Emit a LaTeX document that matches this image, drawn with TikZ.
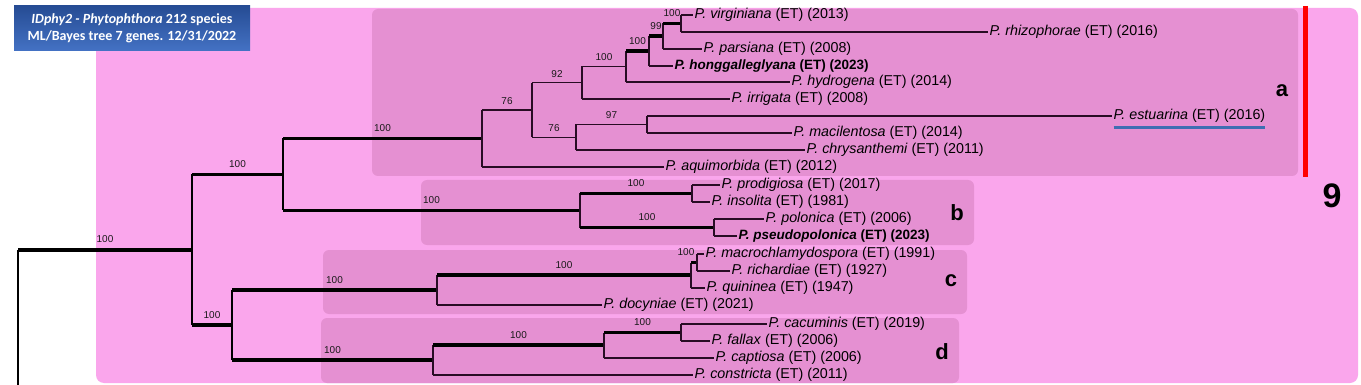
\documentclass[tikz,border=0pt]{standalone}
\usepackage{fontspec}
\setmainfont{Liberation Sans}
\newfontfamily\titlefont{Carlito}
\usetikzlibrary{calc}

\definecolor{pinkbg}{RGB}{250,166,236}
\definecolor{cladebox}{RGB}{229,144,210}
\definecolor{treeline}{RGB}{40,12,36}
\definecolor{estblue}{RGB}{62,110,178}
\definecolor{titletop}{RGB}{38,76,148}
\definecolor{titlebot}{RGB}{68,114,196}

\tikzset{
	thinbr/.style={draw=treeline, line width=1.1pt},
	spinebr/.style={draw=black, line width=2pt},
	thickbr/.style={draw=black, line width=3.6pt},
	taxon/.style={anchor=west, inner sep=1.5pt, font=\fontsize{14.3}{16}\selectfont},
	taxonbold/.style={taxon, font=\fontsize{13.5}{15}\selectfont\bfseries},
	boot/.style={above=4pt, inner sep=1pt, font=\fontsize{10}{11}\selectfont, text=black!90},
	cladebg/.style={fill=cladebox, rounded corners=6pt},
	cladename/.style={font=\fontsize{22}{24}\selectfont\bfseries},
}

\begin{document}
\begin{tikzpicture}[x=1pt, y=-1pt]
			%%%%% START %%%%%
			\useasboundingbox (0,0) rectangle (1361,385);
			\fill[white] (0,0) rectangle (1361,385);
			
			\fill[pinkbg, rounded corners=8pt] (96,8) rectangle (1358,383);
			\fill[cladebg] (372,9) rectangle (1298,176);
			\fill[cladebg] (421,180) rectangle (974,245);
			\fill[cladebg] (323,250) rectangle (967,314);
			\fill[cladebg] (321,318) rectangle (959,383);
			
			\node[top color=titletop, bottom color=titlebot, minimum width=236pt, minimum height=45pt, inner sep=0pt,
				text=white, align=center, font=\titlefont\fontsize{14}{17}\selectfont\bfseries] (title) at (132,28.5)
				{\textit{IDphy2 - Phytophthora} 212 species\\ML/Bayes tree 7 genes. 12/31/2022};
			
			% inner nodes
			\coordinate (root) at (18,249.75);
			\coordinate (R1) at (192,249.75);
			\coordinate (U) at (283,174.5);
			\coordinate (L) at (232,325);
			\coordinate (N9) at (482,138.5);
			\coordinate (N8) at (532,110);
			\coordinate (N5) at (582,82.75);
			\coordinate (N4) at (626,66.5);
			\coordinate (N3) at (649,51);
			\coordinate (N2) at (663,36.25);
			\coordinate (N1) at (681,23.5);
			\coordinate (N7) at (576,137.25);
			\coordinate (N6) at (647,124.5);
			\coordinate (Nb3) at (580,210.5);
			\coordinate (Nb1) at (692,193.5);
			\coordinate (Nb2) at (714,227.5);
			\coordinate (Nc) at (437,290);
			\coordinate (Ncq) at (691,275.25);
			\coordinate (Nmr) at (697,262.5);
			\coordinate (Nd) at (433,360);
			\coordinate (Nd2) at (604,345.25);
			\coordinate (Nd3) at (681,332.5);
			\coordinate (rootend) at (18,390);
			
			% clade a
			\node[taxon] (virg) at (693,15) {\textit{P. virginiana} (ET) (2013)};
			\node[taxon] (rhiz) at (988,32) {\textit{P. rhizophorae} (ET) (2016)};
			\node[taxon] (pars) at (702,49) {\textit{P. parsiana} (ET) (2008)};
			\node[taxonbold] (hong) at (673,66) {\textit{P. honggalleglyana} (ET) (2023)};
			\node[taxon] (hydr) at (790,82) {\textit{P. hydrogena} (ET) (2014)};
			\node[taxon] (irri) at (730,99) {\textit{P. irrigata} (ET) (2008)};
			\node[taxon] (estu) at (1112,116) {\textit{P. estuarina} (ET) (2016)};
			\node[taxon] (maci) at (792,133) {\textit{P. macilentosa} (ET) (2014)};
			\node[taxon] (chry) at (805,150) {\textit{P. chrysanthemi} (ET) (2011)};
			\node[taxon] (aqui) at (664,167) {\textit{P. aquimorbida} (ET) (2012)};
			% clade b
			\node[taxon] (prod) at (720,185) {\textit{P. prodigiosa} (ET) (2017)};
			\node[taxon] (inso) at (710,202) {\textit{P. insolita} (ET) (1981)};
			\node[taxon] (polo) at (764,219) {\textit{P. polonica} (ET) (2006)};
			\node[taxonbold] (pseu) at (737,236) {\textit{P. pseudopolonica} (ET) (2023)};
			% clade c
			\node[taxon] (macr) at (704,254) {\textit{P. macrochlamydospora} (ET) (1991)};
			\node[taxon] (rich) at (730,271) {\textit{P. richardiae} (ET) (1927)};
			\node[taxon] (quin) at (705,288) {\textit{P. quininea} (ET) (1947)};
			\node[taxon] (docy) at (602,305) {\textit{P. docyniae} (ET) (2021)};
			% clade d
			\node[taxon] (cacu) at (767,324) {\textit{P. cacuminis} (ET) (2019)};
			\node[taxon] (fall) at (710,341) {\textit{P. fallax} (ET) (2006)};
			\node[taxon] (capt) at (714,358) {\textit{P. captiosa} (ET) (2006)};
			\node[taxon] (cons) at (693,375) {\textit{P. constricta} (ET) (2011)};
			
			\draw[estblue, line width=3pt] ([xshift=1.5pt, yshift=-3pt]estu.south west) -- ([xshift=-1.5pt, yshift=-3pt]estu.south east);
			
			% backbone
			\draw[spinebr] (root) -- (rootend);
			\draw[thickbr] (root) -- node[boot] {100} (R1);
			\draw[spinebr] (R1 |- U) -- (R1 |- L);
			\draw[thickbr] (U -| R1) -- node[boot] {100} (U);
			\draw[thickbr] (L -| R1) -- node[boot] {100} (L);
			\draw[spinebr] (U |- N9) -- (U |- Nb3);
			\draw[thickbr] (N9 -| U) -- node[boot] {100} (N9);
			\draw[thickbr] (Nb3 -| U) -- node[boot] {100} (Nb3);
			\draw[spinebr] (L |- Nc) -- (L |- Nd);
			\draw[thickbr] (Nc -| L) -- node[boot] {100} (Nc);
			\draw[thickbr] (Nd -| L) -- node[boot] {100} (Nd);
			
			% clade a branches
			\draw[thinbr] (N9 |- N8) -- (N9 |- aqui.west);
			\draw[thinbr] (N8 -| N9) -- node[boot] {76} (N8);
			\draw[thinbr] (aqui.west -| N9) -- (aqui.west);
			\draw[thinbr] (N8 |- N5) -- (N8 |- N7);
			\draw[thinbr] (N5 -| N8) -- node[boot] {92} (N5);
			\draw[thinbr] (N7 -| N8) -- node[boot] {76} (N7);
			\draw[thinbr] (N5 |- N4) -- (N5 |- irri.west);
			\draw[thinbr] (N4 -| N5) -- node[boot] {100} (N4);
			\draw[thinbr] (irri.west -| N5) -- (irri.west);
			\draw[thinbr] (N4 |- N3) -- (N4 |- hydr.west);
			\draw[thickbr] (N3 -| N4) -- node[boot] {100} (N3);
			\draw[thinbr] (hydr.west -| N4) -- (hydr.west);
			\draw[thinbr] (N3 |- N2) -- (N3 |- hong.west);
			\draw[thickbr] (N2 -| N3) -- node[boot] {99} (N2);
			\draw[thinbr] (hong.west -| N3) -- (hong.west);
			\draw[thinbr] (N2 |- N1) -- (N2 |- pars.west);
			\draw[thickbr] (N1 -| N2) -- node[boot] {100} (N1);
			\draw[thinbr] (pars.west -| N2) -- (pars.west);
			\draw[thinbr] (N1 |- virg.west) -- (N1 |- rhiz.west);
			\draw[thinbr] (virg.west -| N1) -- (virg.west);
			\draw[thinbr] (rhiz.west -| N1) -- (rhiz.west);
			\draw[thinbr] (N7 |- N6) -- (N7 |- chry.west);
			\draw[thinbr] (N6 -| N7) -- node[boot] {97} (N6);
			\draw[thinbr] (chry.west -| N7) -- (chry.west);
			\draw[thinbr] (N6 |- estu.west) -- (N6 |- maci.west);
			\draw[thinbr] (estu.west -| N6) -- (estu.west);
			\draw[thinbr] (maci.west -| N6) -- (maci.west);
			
			% clade b branches
			\draw[thinbr] (Nb3 |- Nb1) -- (Nb3 |- Nb2);
			\draw[thickbr] (Nb1 -| Nb3) -- node[boot] {100} (Nb1);
			\draw[thickbr] (Nb2 -| Nb3) -- node[boot] {100} (Nb2);
			\draw[thinbr] (Nb1 |- prod.west) -- (Nb1 |- inso.west);
			\draw[thinbr] (prod.west -| Nb1) -- (prod.west);
			\draw[thinbr] (inso.west -| Nb1) -- (inso.west);
			\draw[thinbr] (Nb2 |- polo.west) -- (Nb2 |- pseu.west);
			\draw[thinbr] (polo.west -| Nb2) -- (polo.west);
			\draw[thinbr] (pseu.west -| Nb2) -- (pseu.west);
			
			% clade c branches
			\draw[thinbr] (Nc |- Ncq) -- (Nc |- docy.west);
			\draw[thickbr] (Ncq -| Nc) -- node[boot] {100} (Ncq);
			\draw[thinbr] (docy.west -| Nc) -- (docy.west);
			\draw[thinbr] (Ncq |- Nmr) -- (Ncq |- quin.west);
			\draw[thickbr] (Nmr -| Ncq) -- node[boot, xshift=-8pt] {100} (Nmr);
			\draw[thinbr] (quin.west -| Ncq) -- (quin.west);
			\draw[thinbr] (Nmr |- macr.west) -- (Nmr |- rich.west);
			\draw[thinbr] (macr.west -| Nmr) -- (macr.west);
			\draw[thinbr] (rich.west -| Nmr) -- (rich.west);
			
			% clade d branches
			\draw[thinbr] (Nd |- Nd2) -- (Nd |- cons.west);
			\draw[thickbr] (Nd2 -| Nd) -- node[boot] {100} (Nd2);
			\draw[thinbr] (cons.west -| Nd) -- (cons.west);
			\draw[thinbr] (Nd2 |- Nd3) -- (Nd2 |- capt.west);
			\draw[thickbr] (Nd3 -| Nd2) -- node[boot] {100} (Nd3);
			\draw[thinbr] (capt.west -| Nd2) -- (capt.west);
			\draw[thinbr] (Nd3 |- cacu.west) -- (Nd3 |- fall.west);
			\draw[thinbr] (cacu.west -| Nd3) -- (cacu.west);
			\draw[thinbr] (fall.west -| Nd3) -- (fall.west);
			
			% clade letters
			\node[cladename] (la) at (1282,91) {a};
			\node[cladename] (lb) at (957,213) {b};
			\node[cladename] (lc) at (951,281) {c};
			\node[cladename] (ld) at (942,352) {d};
			
			\draw[red, line width=5pt] (1305,6) -- (1305,177);
			\node[font=\fontsize{34}{36}\selectfont\bfseries] (nine) at (1332,196) {9};
			%%%%% END %%%%%
\end{tikzpicture}
\end{document}
